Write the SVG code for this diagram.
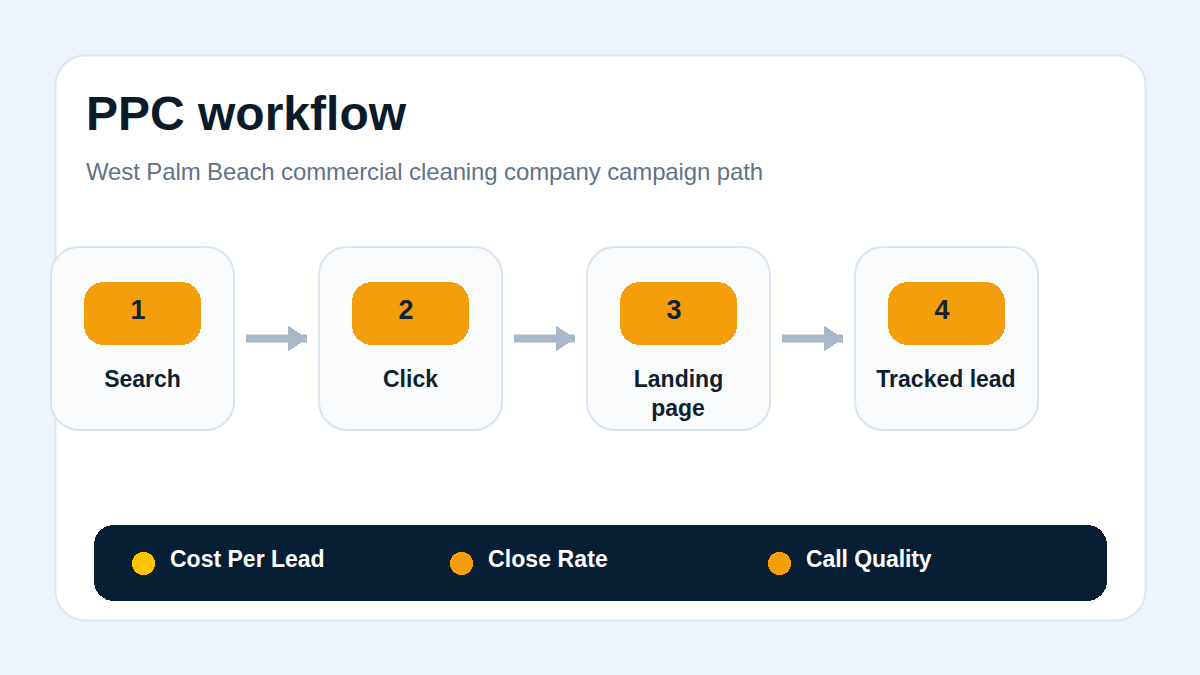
<svg xmlns="http://www.w3.org/2000/svg" width="1200" height="675" viewBox="0 0 1200 675">
<style>
text{font-family:"Liberation Sans",Arial,sans-serif}
.node{fill:#f9fbfd;stroke:#d9e5f0;stroke-width:2}
.badge{fill:#f59e0b;shape-rendering:crispEdges}
.num{font-size:27px;font-weight:700;fill:#0f2237;text-anchor:middle}
.lab{font-size:23px;font-weight:700;fill:#0f1f30;text-anchor:middle}
.leg{font-size:23px;font-weight:700;fill:#fff}
.dot{shape-rendering:crispEdges}
.conn{stroke:#a7b8c9;stroke-width:8;fill:none;marker-end:url(#a)}
</style>
<defs><marker id="a" markerUnits="userSpaceOnUse" markerWidth="20" markerHeight="26" refX="19" refY="13" orient="auto"><path d="M0 0L19 13L0 26Z" fill="#a7b8c9" shape-rendering="crispEdges"/></marker></defs>
<rect width="1200" height="675" fill="#edf4fb"/>
<rect x="55.500" y="55.500" width="1090" height="565" rx="30" fill="#fff" stroke="#dce7f1" stroke-width="2"/>
<text x="86" y="130" font-size="48" font-weight="700" fill="#0c1b2a">PPC workflow</text>
<text x="86" y="180" font-size="24" letter-spacing="-0.12" fill="#5f738a">West Palm Beach commercial cleaning company campaign path</text>
<g id="connectors">
<path class="conn" d="M246 338.500H307"/>
<path class="conn" d="M514 338.500H575"/>
<path class="conn" d="M782 338.500H843"/>
</g>
<g id="node1"><rect class="node" x="51" y="247" width="183" height="183" rx="28"/><rect class="badge" x="84" y="282" width="117" height="63" rx="20"/><text class="num" x="138" y="319">1</text><text class="lab" x="142.500" y="387">Search</text></g>
<g id="node2"><rect class="node" x="319" y="247" width="183" height="183" rx="28"/><rect class="badge" x="352" y="282" width="117" height="63" rx="20"/><text class="num" x="406" y="319">2</text><text class="lab" x="410.500" y="387">Click</text></g>
<g id="node3"><rect class="node" x="587" y="247" width="183" height="183" rx="28"/><rect class="badge" x="620" y="282" width="117" height="63" rx="20"/><text class="num" x="674" y="319">3</text><text class="lab" x="678.500" y="387">Landing</text><text class="lab" x="678" y="415.500">page</text></g>
<g id="node4"><rect class="node" x="855" y="247" width="183" height="183" rx="28"/><rect class="badge" x="888" y="282" width="117" height="63" rx="20"/><text class="num" x="942" y="319">4</text><text class="lab" x="946" y="387">Tracked lead</text></g>
<g id="legend"><rect x="94" y="525" width="1013" height="76" rx="20" fill="#071f35" shape-rendering="crispEdges"/>
<circle class="dot" cx="143.500" cy="563.500" r="11.500" fill="#ffc400"/><text class="leg" x="170" y="567">Cost Per Lead</text>
<circle class="dot" cx="461.500" cy="563.500" r="11.500" fill="#f59e0b"/><text class="leg" x="488" y="567" letter-spacing="0.1">Close Rate</text>
<circle class="dot" cx="779.500" cy="563.500" r="11.500" fill="#f59e0b"/><text class="leg" x="806" y="567" letter-spacing="-0.08">Call Quality</text></g>
</svg>
